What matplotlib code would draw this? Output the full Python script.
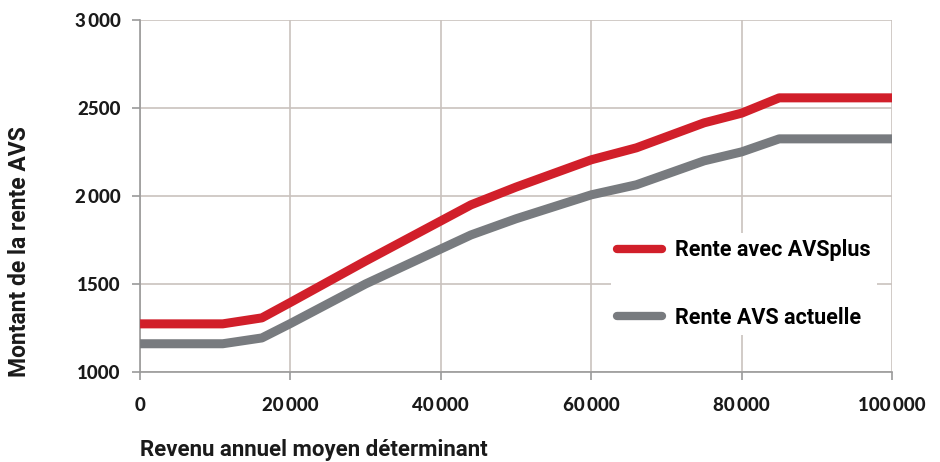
import matplotlib
matplotlib.use('Agg')
import matplotlib.pyplot as plt
from matplotlib.ticker import FuncFormatter

# revenu annuel moyen (CHF) et rentes mensuelles
revenu = [0, 11000, 16200, 20000, 30000, 44000, 50000, 60000, 66000, 75000, 80000, 85000, 100000]
rente_plus = [1273, 1273, 1307, 1395, 1630, 1949, 2050, 2205, 2273, 2415, 2470, 2557, 2557]
rente_actuelle = [1160, 1160, 1193, 1275, 1500, 1778, 1870, 2006, 2063, 2199, 2250, 2324, 2324]

label_plus = "Rente avec AVSplus"
label_actuelle = "Rente AVS actuelle"
xlabel = "Revenu annuel moyen déterminant"
ylabel = "Montant de la rente AVS"

red = '#d11f2a'
grey = '#787b7f'
gridc = '#c9c2be'
label_font = ['Roboto', 'DejaVu Sans']

fig = plt.figure(figsize=(9.4, 4.62), dpi=100)
ax = fig.add_axes([0.149, 0.195, 0.80, 0.762])

ax.plot(revenu, rente_plus, color=red, lw=6.5, solid_joinstyle='round',
        solid_capstyle='butt', label=label_plus, zorder=3)
ax.plot(revenu, rente_actuelle, color=grey, lw=6.5, solid_joinstyle='round',
        solid_capstyle='butt', label=label_actuelle, zorder=3)

ax.set_xlim(0, 100000)
ax.set_ylim(1000, 3000)
ax.set_xticks(range(0, 100001, 20000))
ax.set_yticks(range(1000, 3001, 500))

def fmt(v, pos):
    v = int(v)
    if v >= 2000 and v % 1000 == 0:
        return f"{v:,}".replace(",", "\u2009")
    return str(v)

ax.xaxis.set_major_formatter(FuncFormatter(fmt))
ax.yaxis.set_major_formatter(FuncFormatter(fmt))

for sp in ['top', 'right']:
    ax.spines[sp].set_visible(False)
for sp in ['left', 'bottom']:
    ax.spines[sp].set_color('#9a9a9a')
    ax.spines[sp].set_linewidth(1.2)
ax.grid(True, color=gridc, lw=1.2, zorder=0)
ax.set_axisbelow(True)

ax.tick_params(axis='both', length=6, width=1.2, color='#9a9a9a',
               labelsize=13.5, labelcolor='#1a1a1a')
ax.tick_params(axis='y', pad=8)
ax.tick_params(axis='x', pad=12)
for lab in ax.get_xticklabels() + ax.get_yticklabels():
    lab.set_fontweight('black')
    lab.set_family(['Lato', 'DejaVu Sans'])

leg = ax.legend(loc='center left', bbox_to_anchor=(0.62, 0.25), frameon=True,
                fancybox=False, edgecolor='none', facecolor='white', framealpha=1,
                handlelength=2.1, handletextpad=0.6, labelspacing=2.1,
                borderpad=0.3, borderaxespad=0.2,
                prop={'family': label_font, 'weight': 'bold', 'size': 15.5})
for line in leg.get_lines():
    line.set_linewidth(6)
    line.set_solid_capstyle('round')

fig.text(140 / 940, 1 - 450 / 462, xlabel, ha='left', va='center',
         family=label_font, fontweight='bold', fontsize=16, color='#1a1a1a')
fig.text(20 / 940, 1 - 252 / 462, ylabel, ha='center', va='center', rotation=90,
         family=label_font, fontweight='bold', fontsize=16.5, color='#1a1a1a')

fig.savefig('out.png', dpi=100)
